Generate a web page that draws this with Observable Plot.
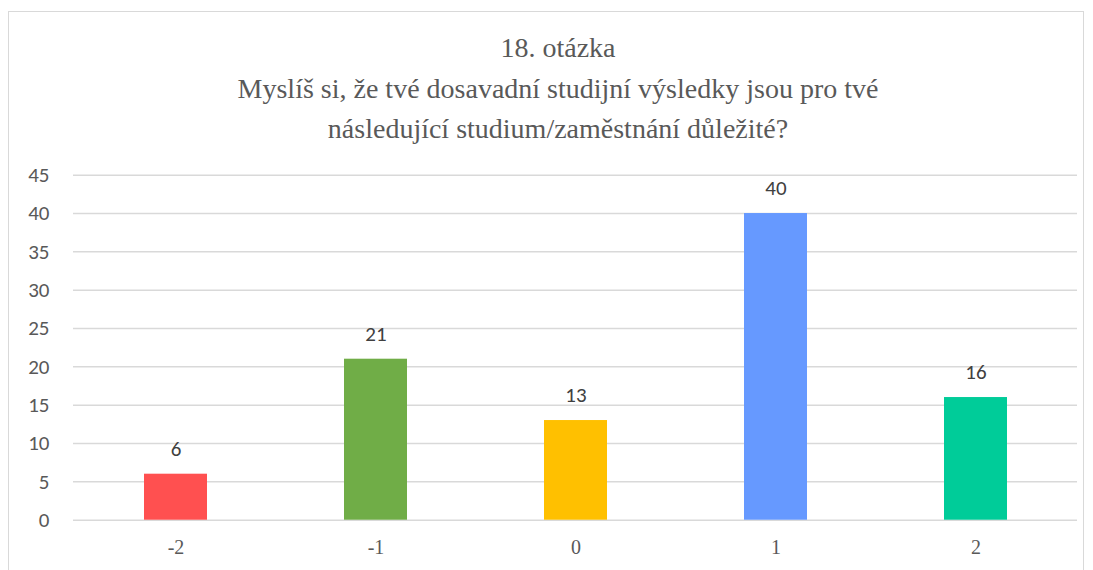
<!DOCTYPE html>
<html>
<head>
<meta charset="utf-8">
<script src="https://cdn.jsdelivr.net/npm/d3@7"></script>
<script src="https://cdn.jsdelivr.net/npm/@observablehq/plot@0.6"></script>
<style>
  html, body { margin: 0; padding: 0; background: #fff; overflow: hidden; width: 1093px; height: 570px; }
</style>
</head>
<body>
<div style="position:absolute; left:8px; top:11px; width:1076px; height:600px; border:1px solid #d9d9d9; box-sizing:border-box;"></div>
<svg id="title" width="1093" height="150" style="position:absolute; left:0; top:0;">
  <g font-family="Liberation Serif" font-size="28" fill="#595959" text-anchor="middle">
    <text x="558" y="57">18. otázka</text>
    <text x="558" y="98">Myslíš si, že tvé dosavadní studijní výsledky jsou pro tvé</text>
    <text x="558" y="138">následující studium/zaměstnání důležité?</text>
  </g>
</svg>
<div id="chart" style="position:absolute; left:0; top:150px;"></div>
<script>
const categories = ["-2", "-1", "0", "1", "2"];
const values = [6, 21, 13, 40, 16];
const colors = ["#FF5050", "#70AD47", "#FFC000", "#6699FF", "#00CC99"];
const yTicks = [0, 5, 10, 15, 20, 25, 30, 35, 40, 45];

const data = categories.map((c, i) => ({category: c, value: values[i], color: colors[i]}));

const chart = Plot.plot({
  width: 1093,
  height: 420,
  marginTop: 24.7,
  marginBottom: 50.3,
  marginLeft: 73,
  marginRight: 16,
  style: {background: "transparent", overflow: "visible"},
  x: {domain: categories, paddingInner: 0.686, paddingOuter: 0.343, label: null},
  y: {domain: [0, 45], label: null},
  marks: [
    Plot.gridY(yTicks, {stroke: "#d9d9d9", strokeOpacity: 1, strokeWidth: 1.5}),
    Plot.axisY(yTicks, {tickSize: 0, tickPadding: 24, fontSize: 21, fill: "#595959",
      fontFamily: "Carlito", label: null}),
    Plot.axisX({tickSize: 0, tickPadding: 20, fontSize: 20, fill: "#595959",
      fontFamily: "Liberation Serif", label: null}),
    Plot.barY(data, {x: "category", y: "value", fill: "color"}),
    Plot.text(data, {x: "category", y: "value", text: d => String(d.value), dy: -25,
      fontSize: 21, fill: "#404040", fontFamily: "Carlito"})
  ]
});
document.getElementById("chart").appendChild(chart);
</script>
</body>
</html>
